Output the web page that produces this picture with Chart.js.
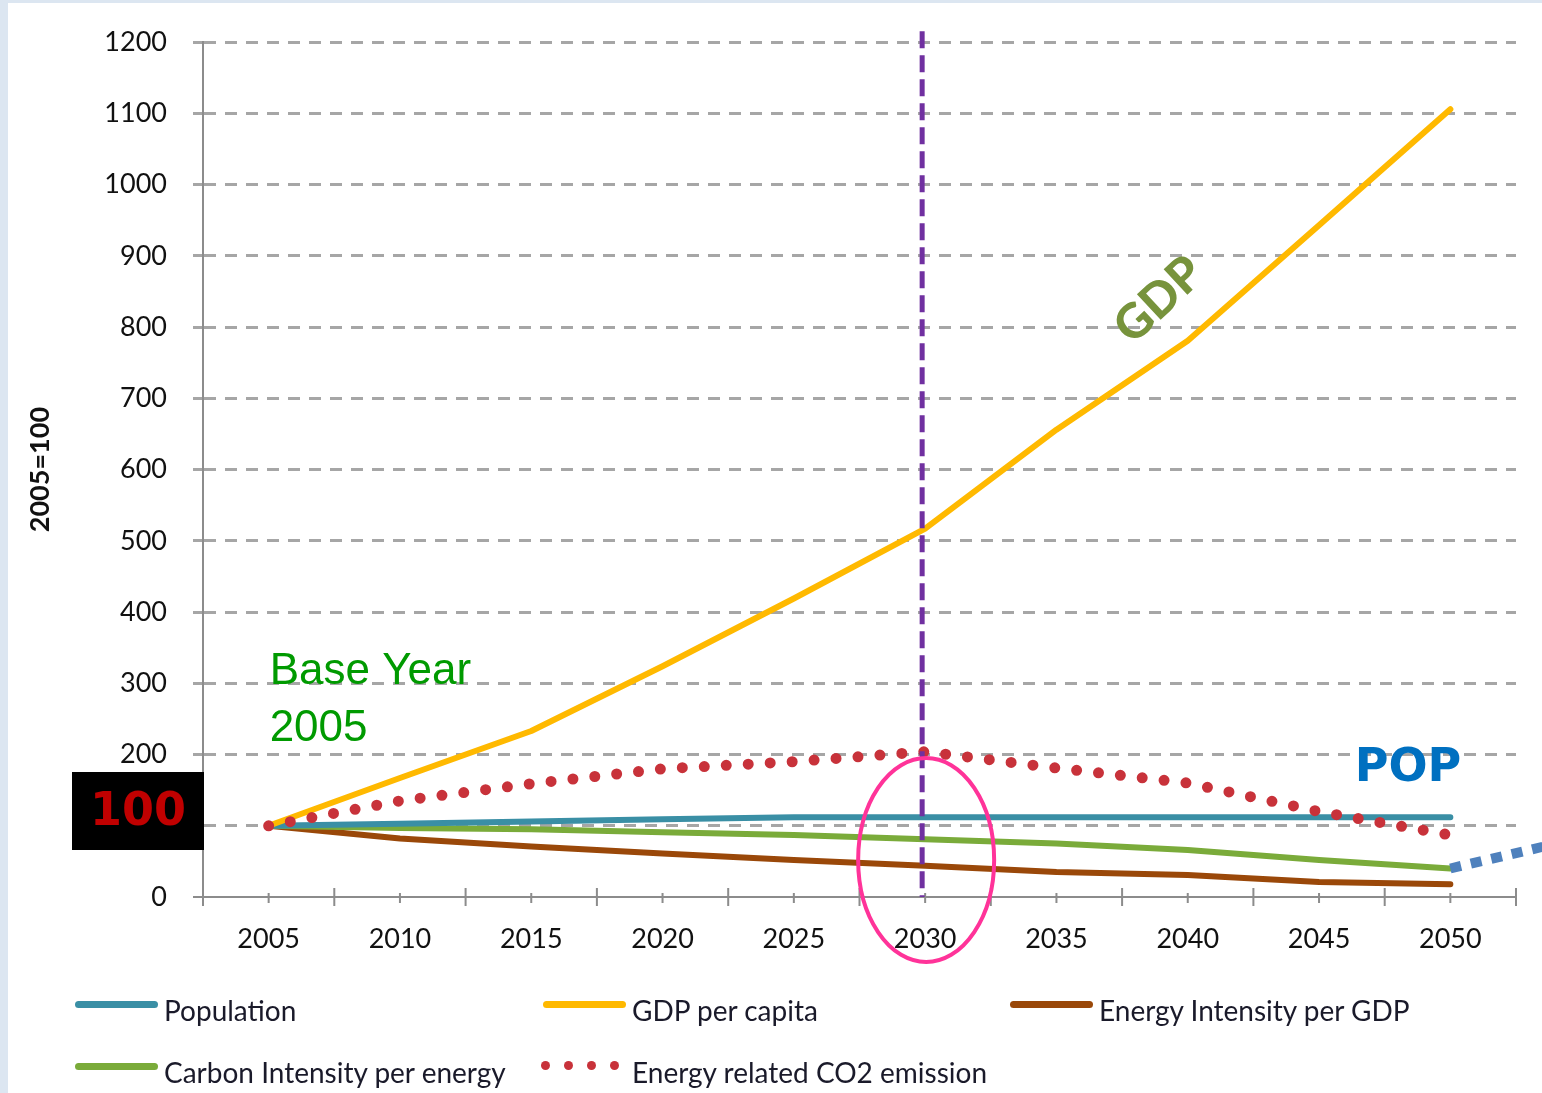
<!DOCTYPE html>
<html><head><meta charset="utf-8">
<script src="https://cdn.jsdelivr.net/npm/chart.js@4.4.0/dist/chart.umd.min.js"></script>
<style>
html,body{margin:0;padding:0;width:1542px;height:1093px;overflow:hidden;background:#dce6f1;}
#panel{position:absolute;left:8px;top:3px;width:1534px;height:1090px;background:#fff;}
#c{position:absolute;left:0;top:0;}
.lgt{position:absolute;font-family:Lato,sans-serif;font-size:28px;color:#1a1a2a;line-height:30px;white-space:nowrap;}
.sw{position:absolute;height:7px;border-radius:4px;}
.dot{position:absolute;width:9px;height:9px;border-radius:50%;background:#c8323a;}
</style></head><body>
<div id="panel"></div>
<canvas id="c" width="1542" height="1093"></canvas>
<div id="legend"></div>
<script>
// ---- data ----
const years = ['2005','2010','2015','2020','2025','2030','2035','2040','2045','2050'];
const population      = [100, 103, 106, 109, 112, 112, 112, 112, 112, 112];
const gdpPerCapita    = [100, 167, 233, 324, 419, 517, 656, 781, 943, 1106];
const energyIntensity = [100, 82, 71, 61, 52, 44, 35, 31, 21, 18];
const carbonIntensity = [100, 97, 95, 91, 87, 81, 75, 66, 52, 40];
const co2Emission     = [100, 135, 159, 180, 190, 204, 181, 160, 120, 87];
const yTickValues = [0,100,200,300,400,500,600,700,800,900,1000,1100,1200];
const seriesNames = ['Population','GDP per capita','Energy Intensity per GDP','Carbon Intensity per energy','Energy related CO2 emission'];

// ---- styles ----
const COLORS = {pop:'#3a8fa5', gdp:'#ffb900', energy:'#9a4809', carbon:'#7aab3a', co2:'#c8323a'};

const xTickMarks = {
  id:'xTickMarks',
  beforeDatasetsDraw(chart){
    const {ctx, scales:{x,y}} = chart;
    const y0 = y.getPixelForValue(0);
    ctx.save();
    ctx.strokeStyle = '#8c8c8c';
    ctx.lineWidth = 2;
    ctx.beginPath();
    ctx.moveTo(x.left - 10, y0); ctx.lineTo(x.left, y0);
    for (let i = 0; i < years.length; i++) {
      const c = x.getPixelForValue(i);
      ctx.moveTo(c, y0 - 4); ctx.lineTo(c, y0 + 6);
    }
    for (let i = 0; i <= years.length; i++) {
      const b = x.getPixelForValue(i - 0.5);
      ctx.moveTo(b, y0 - 9); ctx.lineTo(b, y0 + 9);
    }
    ctx.stroke();
    ctx.restore();
  }
};

const annotations = {
  id:'annotations',
  afterDraw(chart){
    const {ctx, scales:{x,y}} = chart;
    const i2030 = years.indexOf('2030');
    const x2030 = x.getPixelForValue(i2030);
    const y0 = y.getPixelForValue(0);
    ctx.save();
    // purple dashed vertical line at 2030
    ctx.strokeStyle = '#7030a0';
    ctx.lineWidth = 5;
    ctx.setLineDash([17,7]);
    ctx.beginPath();
    ctx.moveTo(x2030 - 3, y.getPixelForValue(1200) - 11);
    ctx.lineTo(x2030 - 3, y0);
    ctx.stroke();
    // blue dotted extension from carbon intensity 2050
    const iLast = years.length - 1;
    const bx = x.getPixelForValue(iLast), by = y.getPixelForValue(carbonIntensity[iLast]);
    ctx.strokeStyle = '#4f81bd';
    ctx.lineWidth = 10;
    ctx.setLineDash([11,10]);
    ctx.lineCap = 'butt';
    ctx.beginPath();
    ctx.moveTo(bx, by);
    ctx.lineTo(chart.width + 5, by - (chart.width + 5 - bx) * 0.235);
    ctx.stroke();
    ctx.setLineDash([]);
    // pink ellipse around 2030
    ctx.strokeStyle = '#ff3399';
    ctx.lineWidth = 4;
    ctx.beginPath();
    ctx.ellipse(x2030 + 1, y0 - 37, 68, 102, 0, 0, Math.PI*2);
    ctx.stroke();
    // Base Year 2005
    const x2005 = x.getPixelForValue(0);
    ctx.fillStyle = '#009a00';
    ctx.font = '44px "Liberation Sans", Arial, sans-serif';
    ctx.textAlign = 'left';
    ctx.textBaseline = 'alphabetic';
    ctx.fillText('Base Year', x2005 + 1, y.getPixelForValue(300) + 1);
    ctx.fillText('2005', x2005 + 1, y.getPixelForValue(300) + 58);
    // 100 box
    ctx.fillStyle = '#000';
    ctx.fillRect(72, 772, x.left + 1 - 72, 78);
    ctx.fillStyle = '#c00000';
    ctx.font = 'bold 46px "DejaVu Sans", sans-serif';
    ctx.textAlign = 'center';
    ctx.textBaseline = 'middle';
    ctx.fillText('100', 138, 813);
    // POP
    ctx.fillStyle = '#0070c0';
    ctx.font = 'bold 46px "DejaVu Sans", sans-serif';
    ctx.fillText('POP', 1408, 769);
    // GDP rotated
    ctx.translate(1159, 300);
    ctx.rotate(-43 * Math.PI / 180);
    ctx.fillStyle = '#77933c';
    ctx.font = '900 48px Lato, sans-serif';
    ctx.fillText('GDP', 0, 0);
    ctx.restore();
  }
};

const lineDs = (label, data, color, order, extra) => Object.assign({
  label, data, borderColor: color, backgroundColor: color, borderWidth: 6,
  pointRadius: 0, tension: 0, borderCapStyle: 'round', borderJoinStyle: 'round', order, fill: false
}, extra || {});

new Chart(document.getElementById('c'), {
  type: 'line',
  data: {
    labels: years,
    datasets: [
      lineDs(seriesNames[0], population, COLORS.pop, 2),
      lineDs(seriesNames[1], gdpPerCapita, COLORS.gdp, 1),
      lineDs(seriesNames[2], energyIntensity, COLORS.energy, 4),
      lineDs(seriesNames[3], carbonIntensity, COLORS.carbon, 3),
      lineDs(seriesNames[4], co2Emission, COLORS.co2, 0, {borderWidth: 11, borderDash: [0, 22]})
    ]
  },
  options: {
    responsive: false,
    animation: false,
    devicePixelRatio: 1,
    layout: {padding: {left: 0, top: 38, right: 26, bottom: 0}},
    plugins: {legend: {display: false}, tooltip: {enabled: false}},
    scales: {
      x: {
        type: 'category', offset: true,
        grid: {display: false, drawTicks: false},
        border: {display: true, color: '#8c8c8c', width: 2},
        ticks: {font: {family: 'Lato', size: 27}, color: '#111', padding: 26, maxRotation: 0, autoSkip: false},
        afterFit(s){ s.height = 196; }
      },
      y: {
        min: 0, max: 1200,
        afterBuildTicks(s){ s.ticks = yTickValues.map(v => ({value: v})); },
        ticks: {font: {family: 'Lato', size: 27}, color: '#111', padding: 26, callback: v => String(v)},
        grid: {
          color: c => (c.tick && c.tick.value === 0) ? 'rgba(0,0,0,0)' : '#a6a6a6',
          lineWidth: 3, tickLength: 10, tickWidth: 3,
          tickColor: c => (c.tick && c.tick.value === 0) ? 'rgba(0,0,0,0)' : '#a6a6a6'
        },
        border: {display: true, color: '#8c8c8c', width: 2, dash: [12, 9]},
        title: {display: true, text: '2005=100', font: {family: 'Lato', size: 27, weight: 'bold'}, color: '#111', padding: {top: 24, bottom: 0}},
        afterFit(s){ s.width = 203; }
      }
    }
  },
  plugins: [xTickMarks, annotations]
});

// ---- HTML legend ----
const legendLayout = [
  {x: 75, y: 1004}, {x: 543, y: 1004}, {x: 1010, y: 1004},
  {x: 75, y: 1066}, {x: 543, y: 1066}
];
const legendColors = [COLORS.pop, COLORS.gdp, COLORS.energy, COLORS.carbon, null];
const lg = document.getElementById('legend');
seriesNames.forEach((name, i) => {
  const p = legendLayout[i];
  if (legendColors[i]) {
    const s = document.createElement('div');
    s.className = 'sw';
    s.style.left = p.x + 'px'; s.style.top = (p.y - 3) + 'px'; s.style.width = '83px';
    s.style.background = legendColors[i];
    lg.appendChild(s);
  } else {
    for (let k = 0; k < 4; k++) {
      const d = document.createElement('div');
      d.className = 'dot';
      d.style.left = (p.x - 2 + k * 23) + 'px'; d.style.top = (p.y - 5) + 'px';
      lg.appendChild(d);
    }
  }
  const t = document.createElement('div');
  t.className = 'lgt';
  t.textContent = name;
  t.style.left = (p.x + 89) + 'px'; t.style.top = (p.y - 9) + 'px';
  lg.appendChild(t);
});
</script>
</body></html>
